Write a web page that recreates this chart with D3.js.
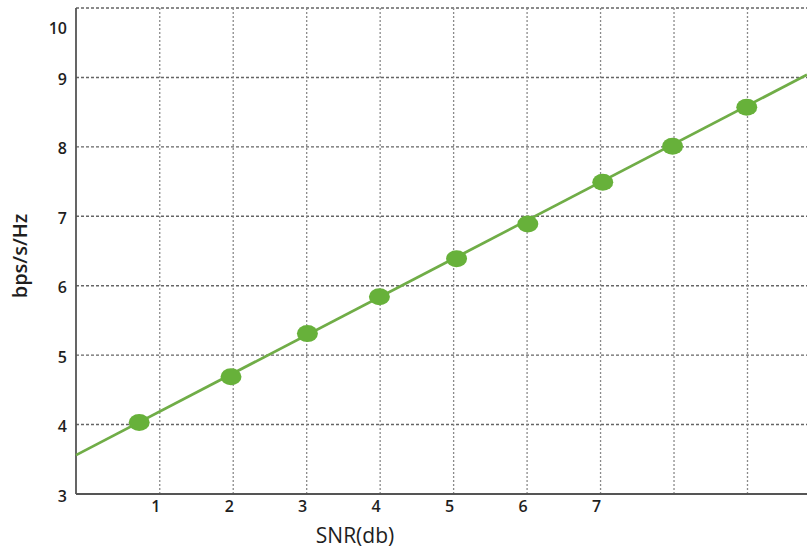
<!DOCTYPE html>
<html>
<head>
<meta charset="utf-8">
<script src="https://cdn.jsdelivr.net/npm/d3@7/dist/d3.min.js"></script>
<style>
  html, body { margin: 0; padding: 0; background: #fff; }
  svg { display: block; }
  text { font-family: "Open Sans", "Noto Sans", sans-serif; fill: #1e1e1e; }
</style>
</head>
<body>
<svg id="chart" width="807" height="550"></svg>
<script>
// ---- data ----
const snrValues   = [0.72, 1.97, 3.01, 3.99, 5.04, 6.01, 7.03, 7.98, 8.99];
const bpsValues   = [4.03, 4.69, 5.31, 5.84, 6.39, 6.89, 7.49, 8.01, 8.57];
const trendX      = [-0.14, 9.81];
const trendY      = [3.56, 9.04];
const xGridValues = [1, 2, 3, 4, 5, 6, 7, 8, 9];
const xTickValues = [1, 2, 3, 4, 5, 6, 7];
const xTickLabels = ["1", "2", "3", "4", "5", "6", "7"];
const yTickValues = [3, 4, 5, 6, 7, 8, 9, 10];
const yTickLabels = ["3", "4", "5", "6", "7", "8", "9", "10"];
const xTitle = "SNR(db)";
const yTitle = "bps/s/Hz";

// ---- layout ----
const W = 807, H = 550;
const mLeft = 76, mRight = 807, mTop = 8, mBottom = 494;

const x = d3.scaleLinear().domain([trendX[0], trendX[1]]).range([mLeft, mRight]);
const y = d3.scaleLinear().domain([3, 10]).range([mBottom, mTop]);

const svg = d3.select("#chart");
svg.append("rect").attr("width", W).attr("height", H).attr("fill", "#fff");

// horizontal gridlines
svg.append("g").selectAll("line").data(yTickValues.filter(v => v > 3)).join("line")
  .attr("x1", mLeft).attr("x2", mRight)
  .attr("y1", d => y(d)).attr("y2", d => y(d))
  .attr("stroke", "#666").attr("stroke-width", 1.4)
  .attr("stroke-dasharray", "3,2");

// vertical gridlines
svg.append("g").selectAll("line").data(xGridValues).join("line")
  .attr("x1", d => x(d)).attr("x2", d => x(d))
  .attr("y1", y(10)).attr("y2", mBottom)
  .attr("stroke", "#8a8a8a").attr("stroke-width", 1.3)
  .attr("stroke-dasharray", "2,2");

// axes lines
svg.append("line").attr("x1", mLeft).attr("x2", mLeft).attr("y1", y(10)).attr("y2", mBottom)
  .attr("stroke", "#555").attr("stroke-width", 1.8);
svg.append("line").attr("x1", mLeft).attr("x2", mRight).attr("y1", mBottom).attr("y2", mBottom)
  .attr("stroke", "#555").attr("stroke-width", 1.8);

// y tick labels
svg.append("g").selectAll("text").data(yTickValues).join("text")
  .attr("x", 67)
  .attr("y", d => Math.max(y(d) + 2, mTop + 20))
  .attr("dy", "0.35em")
  .attr("text-anchor", "end")
  .attr("font-size", 16).attr("font-weight", 600)
  .text((d, i) => yTickLabels[i]);

// x tick labels
svg.append("g").selectAll("text").data(xTickValues).join("text")
  .attr("x", d => x(d) - 4)
  .attr("y", mBottom + 18)
  .attr("text-anchor", "middle")
  .attr("font-size", 16).attr("font-weight", 600)
  .text((d, i) => xTickLabels[i]);

// axis titles
svg.append("text")
  .attr("transform", `translate(27, 256) rotate(-90)`)
  .attr("text-anchor", "middle")
  .attr("font-size", 20).attr("font-weight", 600)
  .text(yTitle);
svg.append("text")
  .attr("x", 355).attr("y", 543)
  .attr("text-anchor", "middle")
  .attr("font-size", 21)
  .text(xTitle);

// trend line
const line = d3.line().x(d => x(d[0])).y(d => y(d[1]));
svg.append("path")
  .datum(trendX.map((v, i) => [v, trendY[i]]))
  .attr("d", line)
  .attr("fill", "none").attr("stroke", "#70ad47").attr("stroke-width", 2.8);

// markers
svg.append("g").selectAll("ellipse").data(snrValues).join("ellipse")
  .attr("cx", d => x(d))
  .attr("cy", (d, i) => y(bpsValues[i]))
  .attr("rx", 10.5).attr("ry", 8.5)
  .attr("fill", "#67b13a");
</script>
</body>
</html>
